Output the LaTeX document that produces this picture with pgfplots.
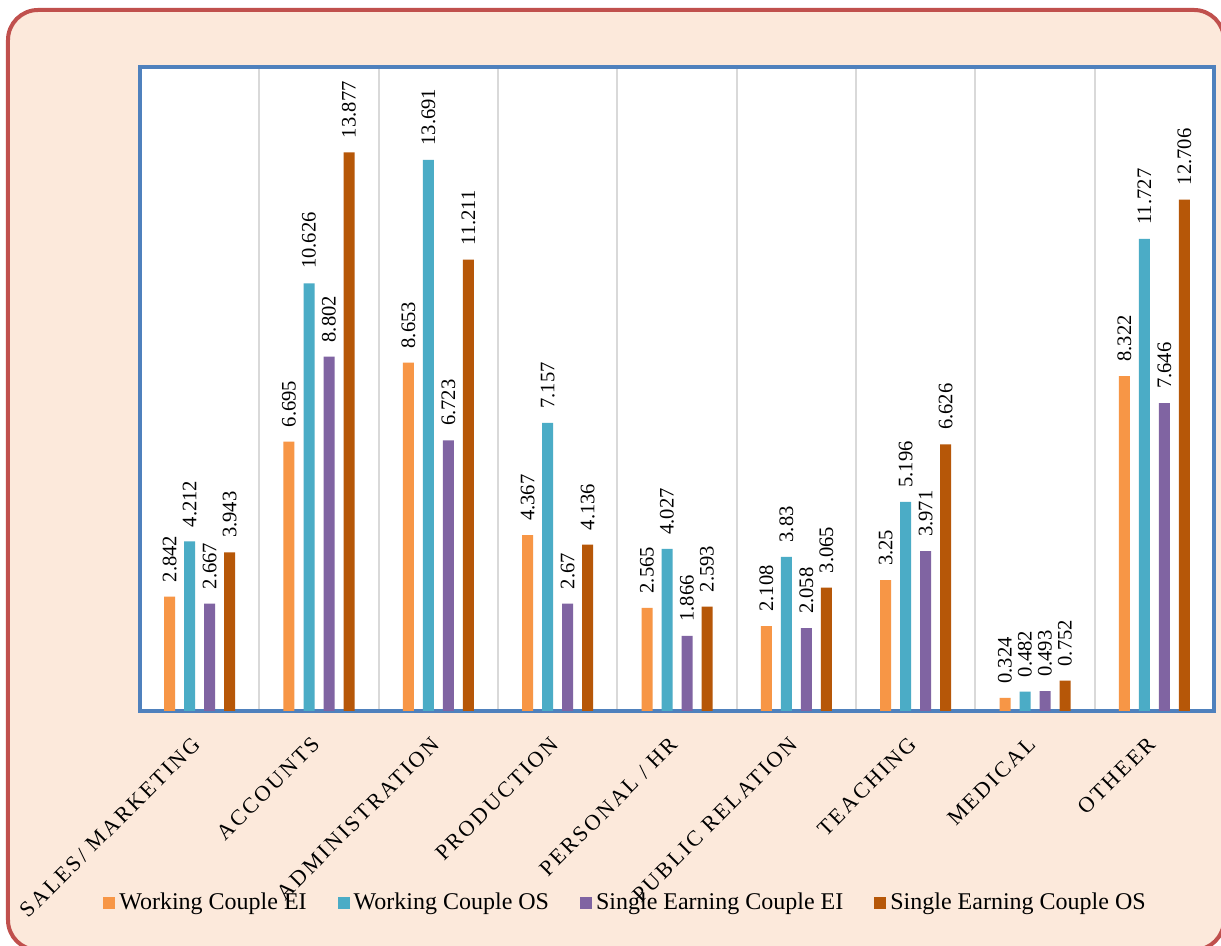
\documentclass[border=0pt]{standalone}
\usepackage{pgfplots}
\pgfplotsset{compat=1.18}
\usepackage{fontspec}
\setmainfont{Liberation Serif}
\newfontfamily\catfont[LetterSpace=11]{Liberation Serif}
\definecolor{borderred}{HTML}{C0504D}
\definecolor{bgpeach}{HTML}{FCE9DB}
\definecolor{frameblue}{HTML}{4F81BD}
\definecolor{cA}{HTML}{F79646}
\definecolor{cB}{HTML}{4BACC6}
\definecolor{cC}{HTML}{8064A2}
\definecolor{cD}{HTML}{B65708}
\begin{document}
\begin{tikzpicture}[x=1pt,y=1pt]
\path[use as bounding box] (-70,-117.5) rectangle (540.5,355.5);
\draw[line width=2pt, draw=borderred, fill=bgpeach, rounded corners=15pt] (-66,-119.5) rectangle (542,350.5);
\begin{axis}[
  at={(0,0)}, anchor=south west,
  width=537pt, height=322pt, scale only axis,
  axis background/.style={fill=white},
  axis line style={draw=frameblue, line width=2pt},
  ybar=4.5pt, bar width=5.5pt,
  xmin=-0.5, xmax=8.5, ymin=0, ymax=16,
  ytick=\empty,
  xtick={0,...,8},
  xticklabels={SALES/ MARKETING, ACCOUNTS, ADMINISTRATION, PRODUCTION, PERSONAL / HR, PUBLIC RELATION, TEACHING, MEDICAL, OTHEER},
  xticklabel style={font=\catfont\fontsize{11}{13}\selectfont, xshift=-4pt, yshift=-12pt, rotate=45, anchor=north east, inner sep=0pt},
  major tick length=0pt, minor tick length=0pt,
  minor xtick={0.5,1.5,...,7.5},
  xminorgrids=true,
  minor grid style={draw=black!15, line width=0.9pt},
  clip=false,
  point meta=explicit symbolic,
  nodes near coords,
  every node near coord/.append style={font=\fontsize{10.3}{12}\selectfont, rotate=90, anchor=west, inner sep=0pt, xshift=7pt, text=black},
  legend columns=4,
  legend style={at={(0.453,-0.298)}, anchor=center, draw=none, fill=none,
    font=\fontsize{12}{14}\selectfont,
    /tikz/every even column/.append style={column sep=13.5pt}},
  legend image code/.code={\fill[#1, draw=none] (0pt,-3pt) rectangle (6pt,3pt);},
]
\addplot[fill=cA, draw=none] coordinates {(0,2.842)[2.842] (1,6.695)[6.695] (2,8.653)[8.653] (3,4.367)[4.367] (4,2.565)[2.565] (5,2.108)[2.108] (6,3.25)[3.25] (7,0.324)[0.324] (8,8.322)[8.322]};
\addlegendentry{Working Couple EI}
\addplot[fill=cB, draw=none] coordinates {(0,4.212)[4.212] (1,10.626)[10.626] (2,13.691)[13.691] (3,7.157)[7.157] (4,4.027)[4.027] (5,3.83)[3.83] (6,5.196)[5.196] (7,0.482)[0.482] (8,11.727)[11.727]};
\addlegendentry{Working Couple OS}
\addplot[fill=cC, draw=none] coordinates {(0,2.667)[2.667] (1,8.802)[8.802] (2,6.723)[6.723] (3,2.67)[2.67] (4,1.866)[1.866] (5,2.058)[2.058] (6,3.971)[3.971] (7,0.493)[0.493] (8,7.646)[7.646]};
\addlegendentry{Single Earning Couple EI}
\addplot[fill=cD, draw=none] coordinates {(0,3.943)[3.943] (1,13.877)[13.877] (2,11.211)[11.211] (3,4.136)[4.136] (4,2.593)[2.593] (5,3.065)[3.065] (6,6.626)[6.626] (7,0.752)[0.752] (8,12.706)[12.706]};
\addlegendentry{Single Earning Couple OS}
\end{axis}
\end{tikzpicture}
\end{document}
